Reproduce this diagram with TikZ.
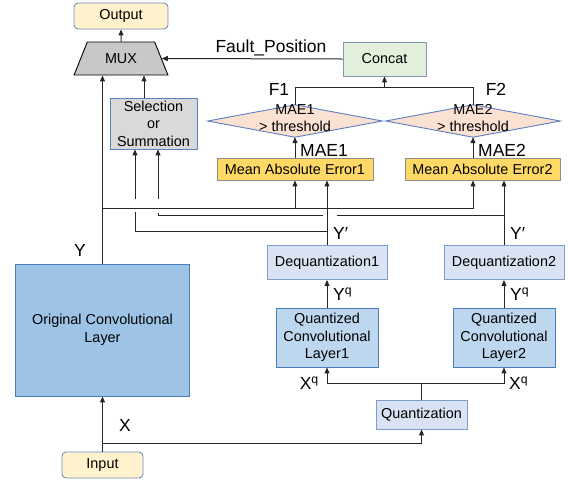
\documentclass[tikz,border=0pt]{standalone}
\usepackage{fontspec}
\setmainfont{Liberation Sans}
\usetikzlibrary{shapes.geometric,arrows.meta,calc}
\definecolor{ioFill}{HTML}{FFF2CC}
\definecolor{ioDraw}{HTML}{6C8EBF}
\definecolor{muxFill}{HTML}{C8C8C8}
\definecolor{catFill}{HTML}{E2EFDA}
\definecolor{catDraw}{HTML}{8497B0}
\definecolor{selFill}{HTML}{D9D9D9}
\definecolor{selDraw}{HTML}{5B7FC0}
\definecolor{diaFill}{HTML}{FBE1D2}
\definecolor{maeFill}{HTML}{FFD966}
\definecolor{maeDraw}{HTML}{8C8C8C}
\definecolor{lightFill}{HTML}{DAE3F3}
\definecolor{lightDraw}{HTML}{7F9CCB}
\definecolor{qFill}{HTML}{BDD7EE}
\definecolor{qDraw}{HTML}{4A7EBB}
\definecolor{origFill}{HTML}{9DC3E6}
\tikzset{
  base/.style={draw, line width=0.9pt, align=center, inner sep=0pt,
    font=\fontsize{14.4}{17.5}\selectfont},
  iobox/.style={base, fill=ioFill, draw=ioDraw, rounded corners=4pt},
  lightbox/.style={base, fill=lightFill, draw=lightDraw},
  qbox/.style={base, fill=qFill, draw=qDraw},
  maebox/.style={base, fill=maeFill, draw=maeDraw},
  lbl/.style={font=\fontsize{17.5}{20}\selectfont, inner sep=0pt},
  conn/.style={line width=1pt, draw=black!85},
  arr/.style={conn, -{Triangle[length=6pt,width=5pt]}},
}
\begin{document}
\begin{tikzpicture}[x=1pt,y=-1pt]
\useasboundingbox (0,0) rectangle (574,483);
% nodes
\node[iobox, minimum width=94, minimum height=26] (output) at (121,16) {Output};
\node[base, trapezium, trapezium angle=58, trapezium stretches=true,
      minimum width=94, minimum height=33, fill=muxFill, draw=black] (mux) at (121,58.5) {MUX};
\node[base, fill=catFill, draw=catDraw, minimum width=83, minimum height=34] (concat) at (384.5,59) {Concat};
\node[base, fill=selFill, draw=selDraw, minimum width=87, minimum height=51] (sel) at (153.5,123.5) {Selection\\or\\Summation};
% diamonds
\node[minimum width=174, minimum height=32, inner sep=0pt] (dia1) at (295,121) {};
\node[minimum width=174, minimum height=32, inner sep=0pt] (dia2) at (473,121) {};
\foreach \d in {dia1,dia2}{
  \draw[fill=diaFill, draw=selDraw, line width=0.9pt]
    (\d.north) -- (\d.east) -- (\d.south) -- (\d.west) -- cycle;
}
\node[align=center, inner sep=0pt, font=\fontsize{14.4}{17}\selectfont] at (295,118.5) {MAE1\\> threshold};
\node[align=center, inner sep=0pt, font=\fontsize{14.4}{17}\selectfont] at (473,118.5) {MAE2\\> threshold};
\node[maebox, minimum width=156, minimum height=22] (mae1) at (295,169) {Mean Absolute Error1};
\node[maebox, minimum width=155, minimum height=22] (mae2) at (482.5,169) {Mean Absolute Error2};
\node[lightbox, minimum width=120, minimum height=34] (deq1) at (327,262.5) {Dequantization1};
\node[lightbox, minimum width=120, minimum height=34] (deq2) at (504,262.5) {Dequantization2};
\node[qbox, minimum width=102, minimum height=59] (qcl1) at (327,337.5) {Quantized\\Convolutional\\Layer1};
\node[qbox, minimum width=102, minimum height=59] (qcl2) at (504,337.5) {Quantized\\Convolutional\\Layer2};
\node[lightbox, minimum width=91, minimum height=29] (quant) at (421.5,414.5) {Quantization};
\node[base, fill=origFill, draw=qDraw, minimum width=174, minimum height=132] (orig) at (102.5,330) {Original Convolutional\\Layer};
\node[iobox, minimum width=81, minimum height=26] (input) at (102.5,465) {Input};
% coordinates
\coordinate (xj) at (102.5,443);
\coordinate (xq) at (421.5,383);
\coordinate (yj) at (102.5,208);
\coordinate (ftop) at (295,87);
\coordinate (s1) at (135,231);
\coordinate (s2) at (158,215);
% connectors
\draw[arr] (input.north) -- (orig.south);
\draw[arr] (xj) -| (quant.south);
\draw[conn] (quant.north) -- (xq);
\draw[arr] (xq) -| (qcl1.south);
\draw[arr] (xq) -| (qcl2.south);
\draw[arr] (qcl1.north) -- (deq1.south);
\draw[arr] (qcl2.north) -- (deq2.south);
\draw[arr] (deq1.north) -- (deq1.north |- mae1.south);
\draw[arr] (deq2.north) -- (deq2.north |- mae2.south);
\draw[arr] (orig.north) -- (orig.north |- mux.south);
\draw[arr] (yj) -| (mae1.south);
\draw[arr] (yj) -| (dia2.south |- mae2.south);
% Y' from deq2 to selection (with jumps)
\draw[conn] (deq2.north |- s2) -- (337,215);
\draw[conn] (323,215) -- (s2) -- (158,212.5);
\draw[arr] (158,198.5) -- (sel.south -| s2);
% Y' from deq1 to selection
\draw[conn] (deq1.north |- s1) -- (s1) -- (135,212);
\draw[arr] (135,198.5) -- (sel.south -| s1);
% selection -> mux
\draw[arr] ([xshift=-9.5pt]sel.north) -- ([xshift=-9.5pt]sel.north |- mux.south);
\draw[arr] (mux.north) -- (output.south);
% diamonds -> concat
\draw[conn] (dia1.north) -- (ftop) -| (dia2.north);
\draw[arr] (concat.south |- ftop) -- (concat.south);
\draw[arr] (mae1.north) -- (dia1.south);
\draw[arr] (mae2.north -| dia2.south) -- (dia2.south);
\draw[arr] (concat.west) -- (mux.east);
% labels
\node[lbl] (lfp) at (271,48) {Fault\_Position};
\node[lbl] (lf1) at (279,89) {F1};
\node[lbl] (lf2) at (496,89) {F2};
\node[lbl, anchor=west] (lm1) at (300,150) {MAE1};
\node[lbl, anchor=west] (lm2) at (478,150) {MAE2};
\node[lbl, anchor=west] (lyp1) at (333,233) {Y′};
\node[lbl, anchor=west] (lyp2) at (510,233) {Y′};
\node[lbl, anchor=west] (lyq1) at (333,294) {Y\textsuperscript{q}};
\node[lbl, anchor=west] (lyq2) at (510,294) {Y\textsuperscript{q}};
\node[lbl, anchor=east] (lxq1) at (319,383) {X\textsuperscript{q}};
\node[lbl, anchor=west] (lxq2) at (509,383) {X\textsuperscript{q}};
\node[lbl] (ly) at (80,250) {Y};
\node[lbl] (lx) at (125,425) {X};
\end{tikzpicture}
\end{document}
